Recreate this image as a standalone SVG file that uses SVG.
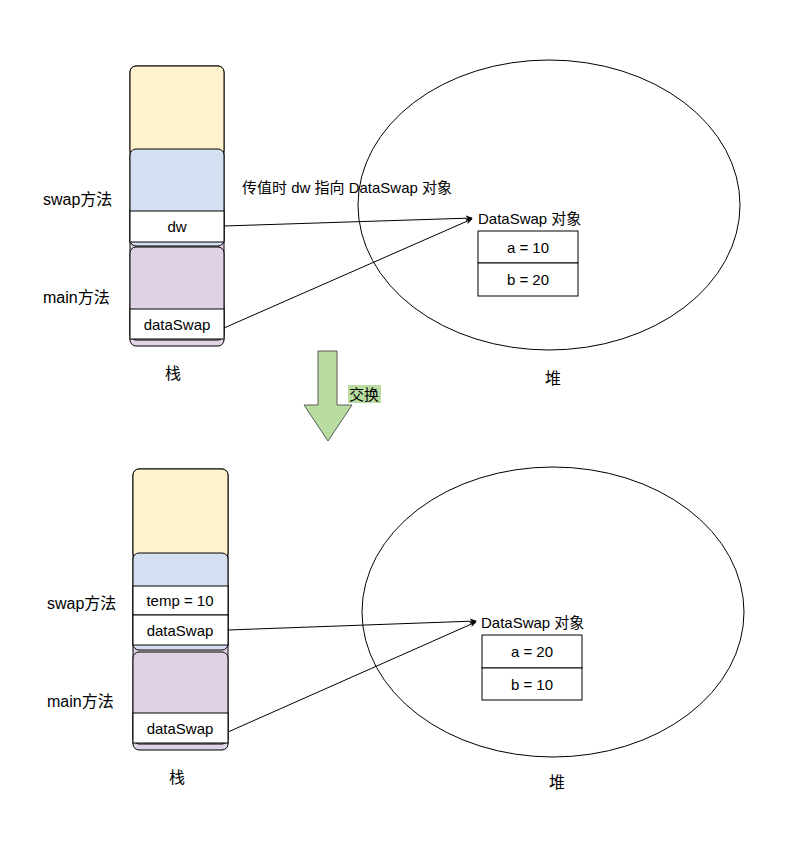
<svg xmlns="http://www.w3.org/2000/svg" width="800" height="855" viewBox="0 0 800 855">
<defs>
<style>
text{font-family:"Liberation Sans",Arial,"Noto Sans CJK SC",sans-serif;font-size:15px;fill:#000}
.c{text-anchor:middle}
.b{font-size:16px}
.w{fill:#fff;stroke:#000;stroke-width:1}
.e{fill:none;stroke:#000;stroke-width:1}
.l{stroke:#000;stroke-width:1;fill:none;marker-end:url(#a)}
</style>
<marker id="a" viewBox="0 0 10 10" refX="9" refY="5" markerWidth="7" markerHeight="7" orient="auto"><path d="M0,1 L10,5 L0,9 L3,5Z" fill="#000"/></marker>
</defs>
<rect width="800" height="855" fill="#fff"/>
<g id="stack1">
<rect x="130" y="66" width="94" height="280" rx="6" fill="#dfd2e4" stroke="#000"/>
<rect x="130" y="66" width="94" height="90" rx="6" fill="#fff2cc" stroke="#000"/>
<rect x="130" y="149" width="94" height="97" rx="6" fill="#d4e0f2" stroke="#000"/>
<rect x="130" y="247" width="94" height="93" rx="6" fill="#dfd2e4" stroke="#000"/>
<rect x="130" y="211" width="94" height="31" class="w"/>
<text x="177" y="232" class="c">dw</text>
<rect x="130" y="309" width="94" height="30" class="w"/>
<text x="177" y="330" class="c">dataSwap</text>
<text x="43" y="205" class="b">swap方法</text>
<text x="43" y="303" class="b">main方法</text>
<text x="173" y="379" class="c b">栈</text>
</g>
<g id="heap1">
<ellipse cx="549" cy="205" rx="191" ry="145" class="e"/>
<text x="478" y="224">DataSwap 对象</text>
<rect x="478" y="231" width="100" height="32" class="w"/>
<text x="528" y="253" class="c">a = 10</text>
<rect x="478" y="263" width="100" height="33" class="w"/>
<text x="528" y="285" class="c">b = 20</text>
<text x="553" y="384" class="c b">堆</text>
<text x="242" y="193">传值时 dw 指向 DataSwap 对象</text>
</g>
<g id="swaparrow">
<path d="M318,351 H337 V405 H352 L328,441 L304,405 H318Z" fill="#b9dca0" stroke="#5a5a5a"/>
<rect x="348" y="385" width="33" height="18" fill="#b9dca0"/>
<text x="349" y="400">交换</text>
</g>
<g id="stack2">
<rect x="133" y="469" width="95" height="281" rx="6" fill="#dfd2e4" stroke="#000"/>
<rect x="133" y="469" width="95" height="90" rx="6" fill="#fff2cc" stroke="#000"/>
<rect x="133" y="553" width="95" height="97" rx="6" fill="#d4e0f2" stroke="#000"/>
<rect x="133" y="652" width="95" height="92" rx="6" fill="#dfd2e4" stroke="#000"/>
<rect x="133" y="586" width="95" height="29" class="w"/>
<text x="180" y="606" class="c">temp = 10</text>
<rect x="133" y="615" width="95" height="30" class="w"/>
<text x="180" y="636" class="c">dataSwap</text>
<rect x="133" y="713" width="95" height="30" class="w"/>
<text x="180" y="734" class="c">dataSwap</text>
<text x="47" y="609" class="b">swap方法</text>
<text x="47" y="707" class="b">main方法</text>
<text x="177" y="783" class="c b">栈</text>
</g>
<g id="heap2">
<ellipse cx="553" cy="612" rx="191" ry="145" class="e"/>
<text x="481" y="628">DataSwap 对象</text>
<rect x="482" y="635" width="100" height="33" class="w"/>
<text x="532" y="657" class="c">a = 20</text>
<rect x="482" y="668" width="100" height="32" class="w"/>
<text x="532" y="690" class="c">b = 10</text>
<text x="557" y="788" class="c b">堆</text>
</g>
<g id="connectors">
<path d="M224,226 L472,218" class="l"/>
<path d="M224,328 L472,219" class="l"/>
<path d="M228,630 L476,621" class="l"/>
<path d="M228,732 L476,622" class="l"/>
</g>
</svg>
